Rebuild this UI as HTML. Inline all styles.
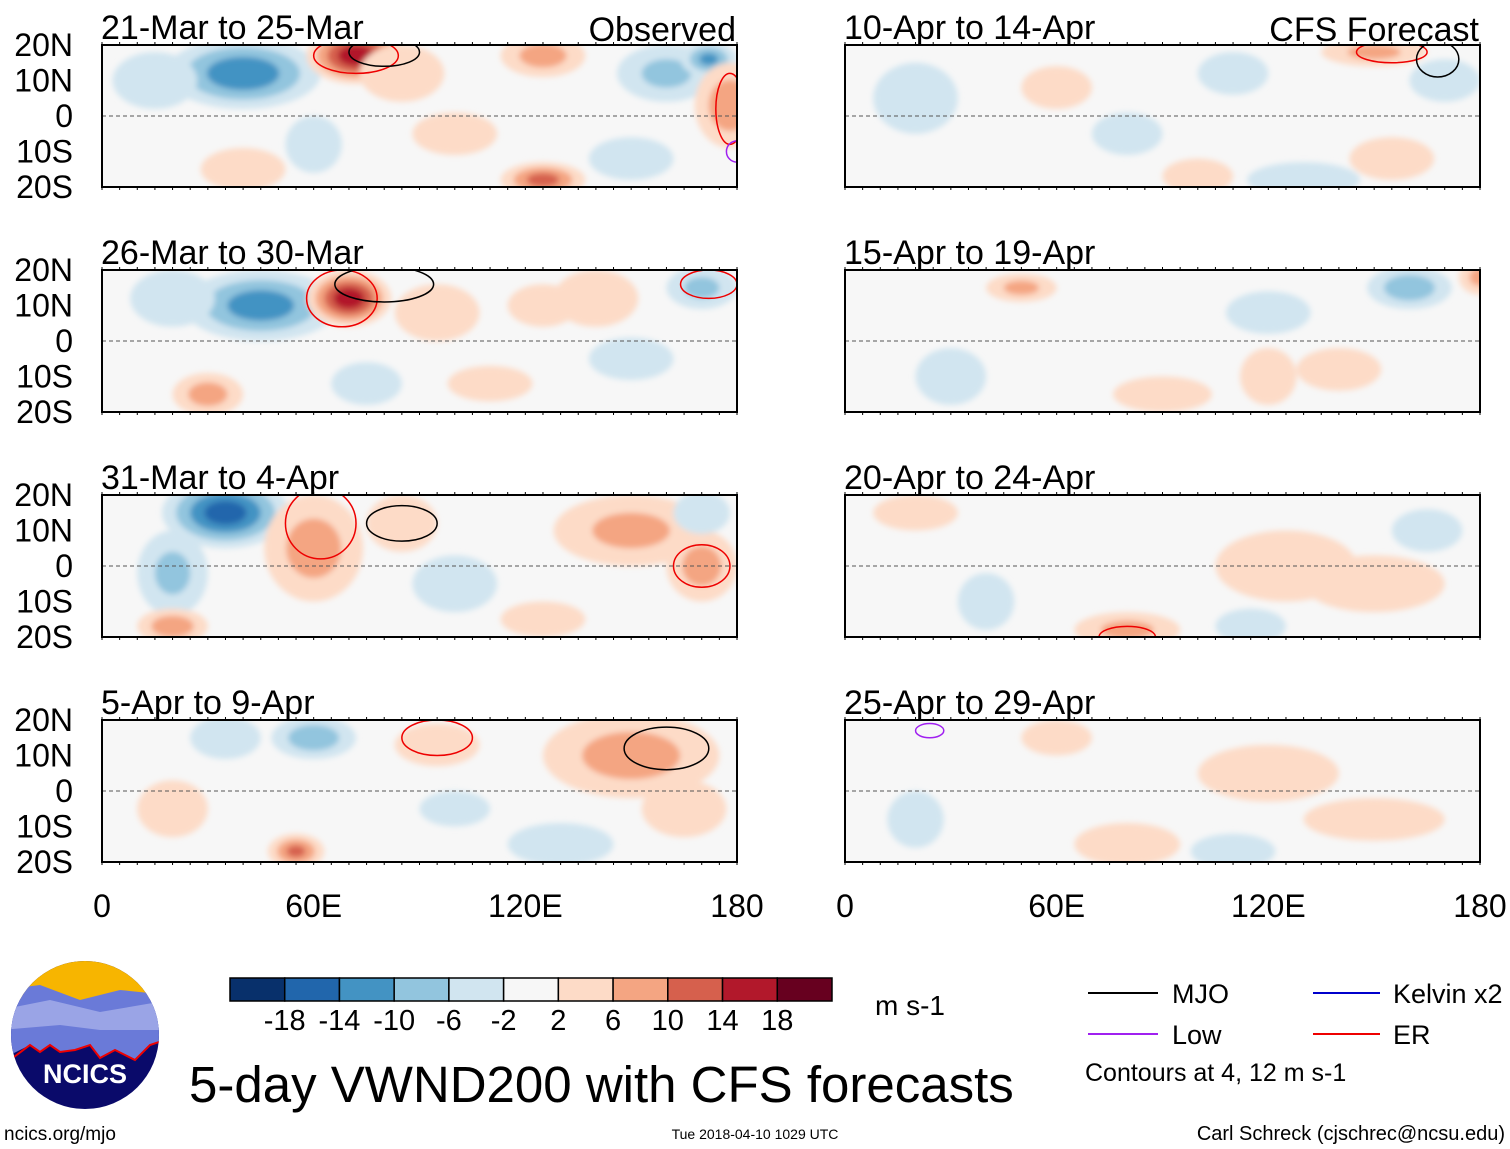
<!DOCTYPE html>
<html><head><meta charset="utf-8"><style>
body{margin:0;background:#fff;width:1510px;height:1149px;overflow:hidden;font-family:"Liberation Sans",sans-serif}
svg{position:absolute;left:0;top:0}
</style></head><body>
<svg id="s" width="1510" height="1149" xmlns="http://www.w3.org/2000/svg" font-family="Liberation Sans, sans-serif">
<defs><filter id="bl"><feGaussianBlur stdDeviation="3"/></filter></defs>
<g id="panels"></g>
<g id="colorbar"></g>
<text x="875" y="1015" font-size="28">m s-1</text>
<text x="189" y="1102" font-size="51">5-day VWND200 with CFS forecasts</text>
<g font-size="27">
<line x1="1088" y1="993" x2="1158" y2="993" stroke="#000" stroke-width="2"/><text x="1172" y="1003">MJO</text>
<line x1="1313" y1="993" x2="1380" y2="993" stroke="#00c" stroke-width="2"/><text x="1393" y="1003">Kelvin x2</text>
<line x1="1088" y1="1034" x2="1158" y2="1034" stroke="#a020f0" stroke-width="2"/><text x="1172" y="1044">Low</text>
<line x1="1313" y1="1034" x2="1380" y2="1034" stroke="#e00" stroke-width="2"/><text x="1393" y="1044">ER</text>
<text x="1085" y="1081" font-size="25">Contours at 4, 12 m s-1</text>
</g>
<g>
<clipPath id="lc"><circle cx="85" cy="1035" r="74"/></clipPath>
<g clip-path="url(#lc)">
<rect x="0" y="955" width="170" height="160" fill="#0a0a6a"/>
<rect x="0" y="955" width="170" height="45" fill="#f7b500"/>
<path d="M0 990 L40 985 L80 1000 L120 990 L170 995 L170 1040 L150 1045 L135 1060 L125 1055 L115 1050 L100 1058 L90 1045 L75 1050 L60 1052 L50 1045 L40 1052 L30 1045 L0 1060Z" fill="#6a7ad8"/>
<path d="M0 1010 L50 1000 L100 1012 L170 1000 L170 1030 L100 1030 L60 1025 L0 1030Z" fill="#9aa4e6"/>
<path d="M10 1060 L30 1045 L40 1052 L50 1045 L60 1052 L75 1050 L90 1045 L100 1058 L115 1050 L125 1055 L135 1060 L150 1045 L165 1040" fill="none" stroke="#e00" stroke-width="2"/>
</g>
<text x="85" y="1083" font-size="27" font-weight="bold" fill="#fff" text-anchor="middle">NCICS</text>
</g>
<text x="4" y="1140" font-size="19">ncics.org/mjo</text>
<text x="755" y="1139" font-size="14" text-anchor="middle">Tue 2018-04-10 1029 UTC</text>
<text x="1505" y="1140" font-size="20" text-anchor="end">Carl Schreck (cjschrec@ncsu.edu)</text>
</svg>
<script>
const titles=["21-Mar to 25-Mar","26-Mar to 30-Mar","31-Mar to 4-Apr","5-Apr to 9-Apr","10-Apr to 14-Apr","15-Apr to 19-Apr","20-Apr to 24-Apr","25-Apr to 29-Apr"];
const levels=[2,6,10,14,18];
const posColors=["#fddbc7","#f4a582","#d6604d","#b2182b","#67001f"];
const negColors=["#d1e5f0","#92c5de","#4393c3","#2166ac","#08306b"];
const cbColors=["#08306b","#2166ac","#4393c3","#92c5de","#d1e5f0","#f7f7f7","#fddbc7","#f4a582","#d6604d","#b2182b","#67001f"];
const cbLabels=["-18","-14","-10","-6","-2","2","6","10","14","18"];
const xTicks=["0","60E","120E","180"];
const yTicks=["20N","10N","0","10S","20S"];
// blobs: [lon, lat, value, lonRadius, latRadius]
const blobs0=[[40,12,-13,22,10],[15,10,-5,12,8],[72,17,17,14,8],[85,12,5,12,8],[125,17,7,12,6],[160,12,-6,14,8],[172,16,-10,8,5],[178,3,8,10,12],[125,-18,11,12,5],[150,-12,-4,12,6],[60,-8,-3,8,8],[100,-5,4,12,6],[40,-15,4,12,6]];
const blobs1=[[45,10,-12,22,10],[20,12,-5,12,8],[70,12,17,12,8],[95,8,5,12,8],[140,12,5,12,8],[170,15,-6,10,6],[30,-15,7,10,6],[75,-12,-5,10,6],[110,-12,5,12,5],[150,-5,-3,12,6],[125,10,5,10,6]];
const blobs2=[[35,15,-16,18,10],[20,-2,-6,10,12],[60,5,7,14,15],[85,12,5,10,8],[150,10,6,22,10],[170,0,7,10,10],[20,-17,8,10,5],[125,-15,5,12,5],[100,-5,-3,12,8],[170,15,-4,8,6]];
const blobs3=[[60,15,-8,12,6],[35,15,-4,10,6],[95,13,5,12,6],[150,10,7,25,12],[165,-5,5,12,8],[55,-17,10,8,5],[130,-15,-5,15,6],[20,-5,3,10,8],[100,-5,-3,10,5]];
const blobs4=[[110,12,-3,10,6],[150,18,6,15,4],[170,10,-4,10,6],[20,5,-3,12,10],[130,-18,-5,16,5],[100,-17,3,10,5],[155,-12,5,12,6],[60,8,3,10,6],[80,-5,-2,10,6]];
const blobs5=[[160,15,-8,12,6],[120,8,-3,12,6],[180,18,6,6,5],[50,15,6,10,4],[90,-15,4,14,5],[30,-10,-3,10,8],[140,-8,4,12,6],[120,-10,3,8,8]];
const blobs6=[[125,0,5,20,10],[150,-5,4,20,8],[80,-18,6,15,5],[115,-17,-5,10,5],[20,15,3,12,5],[40,-10,-3,8,8],[165,10,-3,10,6]];
const blobs7=[[120,5,4,20,8],[150,-8,4,20,6],[80,-15,5,15,6],[20,-8,-3,8,8],[110,-17,-3,12,5],[60,15,3,10,5]];
const allBlobs=[blobs0,blobs1,blobs2,blobs3,blobs4,blobs5,blobs6,blobs7];
// contours: [panel, lon, lat, lonRadius, latRadius, color]
const contours=[[0,72,17,12,5,"#e00"],[0,80,18,10,4,"#000"],[0,178,2,4,10,"#e00"],[0,180,-10,3,3,"#a020f0"],[1,68,12,10,8,"#e00"],[1,80,16,14,5,"#000"],[1,172,16,8,4,"#e00"],[2,62,12,10,10,"#e00"],[2,85,12,10,5,"#000"],[2,170,0,8,6,"#e00"],[3,95,15,10,5,"#e00"],[3,160,12,12,6,"#000"],[4,155,18,10,3,"#e00"],[4,168,16,6,5,"#000"],[6,80,-20,8,3,"#e00"],[7,24,17,4,2,"#a020f0"]];
const NS="http://www.w3.org/2000/svg";
function el(t,a,p){const e=document.createElementNS(NS,t);for(const k in a)e.setAttribute(k,a[k]);if(p)p.appendChild(e);return e;}
const W=635,H=142,lefts=[102,845],tops=[45,270,495,720];
const root=document.getElementById('panels');
for(let i=0;i<8;i++){
 const x0=lefts[i<4?0:1],y0=tops[i%4];
 const px=lon=>x0+lon/180*W, py=lat=>y0+(20-lat)/40*H;
 const g=el('g',{},root);
 
 
 el('clipPath',{id:'c'+i},g).appendChild(el('rect',{x:x0,y:y0,width:W,height:H}));
 el('rect',{x:x0,y:y0,width:W,height:H,fill:'#f7f7f7'},g);
 const f=el('g',{'clip-path':'url(#c'+i+')',filter:'url(#bl)'},g);
 for(const b of allBlobs[i]){
  const v=Math.abs(b[2]),cols=b[2]>0?posColors:negColors;
  levels.forEach((lv,k)=>{ if(v>=lv){const s=1-(lv-levels[0])/(v+2);
   const e=el('ellipse',{cx:px(b[0]),cy:py(b[1]),rx:b[3]/180*W*s,ry:b[4]/40*H*s,fill:cols[k]},f);
   
   }});
 }
 const cg=el('g',{'clip-path':'url(#c'+i+')'},g);
 for(const c of contours){ if(c[0]!==i) continue;
  const e=el('ellipse',{cx:px(c[1]),cy:py(c[2]),rx:c[3]/180*W,ry:c[4]/40*H,fill:'none',stroke:c[5],'stroke-width':1.5},cg);
  
  }
 el('line',{x1:x0,y1:py(0),x2:x0+W,y2:py(0),stroke:'#555','stroke-dasharray':'4,3','stroke-width':1},g);
 el('rect',{x:x0,y:y0,width:W,height:H,fill:'none',stroke:'#000','stroke-width':2},g);
 for(let k=0;k<=36;k++){const xx=x0+k*W/36;el('line',{x1:xx,y1:y0,x2:xx,y2:y0-3,stroke:'#000'},g);el('line',{x1:xx,y1:y0+H,x2:xx,y2:y0+H+3,stroke:'#000'},g);}
 const t=el('text',{x:x0-1,y:y0-6,'font-size':34},g);t.textContent=titles[i];
 
 
 if(i==0||i==4){const s=el('text',{x:x0+W-1,y:y0-4,'font-size':34,'text-anchor':'end'},g);s.textContent=i==0?"Observed":"CFS Forecast";
  
  }
 if(i<4){yTicks.forEach((l,k)=>{const tt=el('text',{x:73,y:y0+k*H/4+11,'font-size':32,'text-anchor':'end'},g);tt.textContent=l;
  
  });}
 if(i%4==3){xTicks.forEach((l,k)=>{const tt=el('text',{x:x0+k*W/3,y:917,'font-size':32,'text-anchor':'middle'},g);tt.textContent=l;
  
  });}
}
const cb=document.getElementById('colorbar'),bw=602/11;
cbColors.forEach((c,k)=>{const r=el('rect',{x:230+k*bw,y:978,width:bw,height:23,fill:c,stroke:'#000','stroke-width':1.5},cb);
 
 });
cbLabels.forEach((l,k)=>{const t=el('text',{x:230+(k+1)*bw,y:1030,'font-size':29,'text-anchor':'middle'},cb);t.textContent=l;
 
 });
</script>
</body></html>
